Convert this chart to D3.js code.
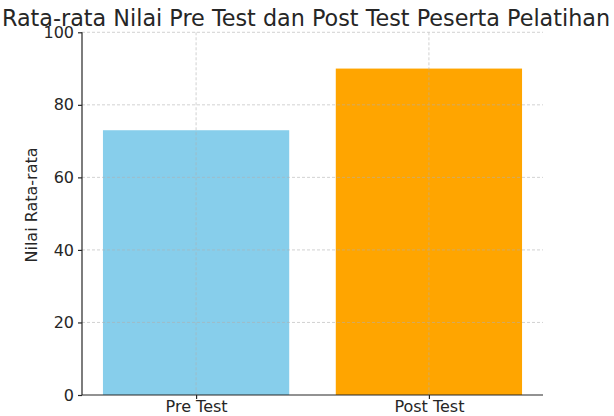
<!DOCTYPE html>
<html><head><meta charset="utf-8">
<script src="https://cdn.jsdelivr.net/npm/d3@7"></script>
<style>body{margin:0;background:#fff}svg{display:block}text{font-family:"DejaVu Sans",sans-serif;fill:#262626}</style>
</head><body>
<script>
const categories = ["Pre Test", "Post Test"];
const values = [73, 90];
const colors = ["#87CEEB", "#FFA500"];
const yTicks = [0, 20, 40, 60, 80, 100];
const title = "Rata-rata Nilai Pre Test dan Post Test Peserta Pelatihan";
const yLabel = "Nilai Rata-rata";

const W = 614, H = 416;
const m = {left: 82, right: 71, top: 32.3, bottom: 21};
const svg = d3.select("body").append("svg").attr("width", W).attr("height", H);

const x = d3.scaleLinear().domain([-0.49, 1.49]).range([m.left, W - m.right]);
const y = d3.scaleLinear().domain([0, 100]).range([H - m.bottom, m.top]);
const bw = x(0.8) - x(0);

svg.selectAll("rect.bar").data(values).join("rect")
  .attr("x", (d, i) => x(i - 0.4)).attr("width", bw)
  .attr("y", d => y(d)).attr("height", d => y(0) - y(d))
  .attr("fill", (d, i) => colors[i]);

// grid on top
const g = svg.append("g").attr("stroke", "#b0b0b0").attr("stroke-dasharray", "3,2").attr("stroke-width", 0.8).attr("opacity", 0.7);
g.selectAll("line.h").data(yTicks.slice(1)).join("line")
  .attr("x1", m.left).attr("x2", W - m.right).attr("y1", d => y(d)).attr("y2", d => y(d));
g.selectAll("line.v").data(categories).join("line")
  .attr("x1", (d, i) => x(i)).attr("x2", (d, i) => x(i)).attr("y1", m.top).attr("y2", y(0));

const yAxis = svg.append("g").attr("transform", `translate(${m.left},0)`)
  .call(d3.axisLeft(y).tickValues(yTicks).tickSize(4).tickPadding(4));
const xAxis = svg.append("g").attr("transform", `translate(0,${y(0)})`)
  .call(d3.axisBottom(x).tickValues([0, 1]).tickFormat(i => categories[i]).tickSize(4).tickPadding(2));
[yAxis, xAxis].forEach(a => {
  a.selectAll("text").attr("font-size", 16).attr("font-family", "DejaVu Sans").attr("fill", "#262626");
  a.selectAll("line,path").attr("stroke", "#262626").attr("stroke-width", 1.2);
});
yAxis.select("path").attr("d", `M0,${y(0)}V${m.top}`);
xAxis.select("path").attr("d", `M${m.left},0H${W - m.right}`);

svg.append("text").attr("x", 306).attr("y", 26).attr("text-anchor", "middle")
  .attr("font-size", 22.3).text(title);
svg.append("text").attr("transform", `translate(37,205) rotate(-90)`).attr("text-anchor", "middle")
  .attr("font-size", 16).text(yLabel);
</script>
</body></html>
